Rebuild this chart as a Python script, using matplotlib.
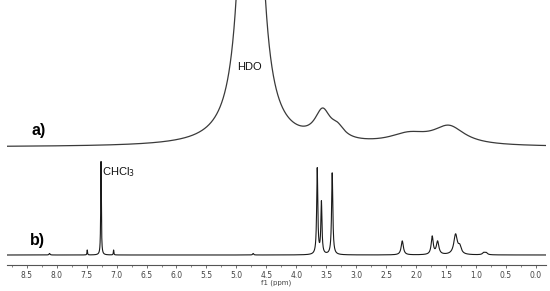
import numpy as np
import matplotlib
matplotlib.use("Agg")
import matplotlib.pyplot as plt
from matplotlib.ticker import MultipleLocator

# ---- data (ppm, height, half-width in ppm) ----
# Spectrum a (broad lines, large HDO signal)
a_pos = [4.76, 3.56, 3.31, 2.12, 1.45]
a_height = [760.0, 28.0, 10.0, 10.0, 18.0]
a_width = [0.12, 0.16, 0.14, 0.40, 0.32]
a_offset = 118.0

# Spectrum b (sharp lines)
b_pos = [8.12, 7.49, 7.26, 7.05, 4.72, 3.65, 3.58, 3.40, 2.23, 1.73, 1.64,
         1.34, 1.27, 0.87, 0.83]
b_height = [1.5, 5.0, 95.0, 5.0, 1.5, 86.0, 52.0, 82.0, 14.0, 18.0, 13.0,
            20.0, 7.0, 2.0, 2.0]
b_width = [0.01, 0.005, 0.006, 0.005, 0.01, 0.011, 0.011, 0.012, 0.022,
           0.02, 0.025, 0.035, 0.03, 0.025, 0.025]
b_offset = 10.0

xticks = [8.5, 8.0, 7.5, 7.0, 6.5, 6.0, 5.5, 5.0, 4.5, 4.0, 3.5, 3.0, 2.5,
          2.0, 1.5, 1.0, 0.5, 0.0]


def spectrum(x, pos, h, w):
    y = np.zeros_like(x)
    for p, a, g in zip(pos, h, w):
        y += a * g**2 / ((x - p) ** 2 + g**2)
    return y


x = np.linspace(8.83, -0.17, 6000)
ya = a_offset + spectrum(x, a_pos, a_height, a_width)
yb = b_offset + spectrum(x, b_pos, b_height, b_width)

fig = plt.figure(figsize=(5.5, 2.91), dpi=100)
ax = fig.add_axes([7 / 550, 26 / 291, 539 / 550, 265 / 291])
ax.plot(x, ya, color="#3a3a3a", lw=0.9)
ax.plot(x, yb, color="#1a1a1a", lw=0.8)
ax.set_xlim(8.83, -0.17)
ax.set_ylim(0, 265)

for s in ["top", "left", "right"]:
    ax.spines[s].set_visible(False)
ax.spines["bottom"].set_color("#555555")
ax.spines["bottom"].set_linewidth(0.8)
ax.set_yticks([])
ax.set_xticks(xticks)
ax.set_xticklabels([f"{t:.1f}" for t in xticks])
ax.xaxis.set_minor_locator(MultipleLocator(0.25))
ax.tick_params(axis="x", which="major", direction="out", length=2.5,
               width=0.6, color="#555555", labelsize=5.5, labelcolor="#444444",
               pad=1.5)
ax.tick_params(axis="x", which="minor", direction="out", length=1.5,
               width=0.5, color="#555555")
ax.set_xlabel("f1 (ppm)", fontsize=5, color="#444444", labelpad=0)

ax.text(4.99, 198, "HDO", fontsize=8, family="Liberation Sans", va="center",
        ha="left", color="#111111")
ax.text(8.42, 135, "a)", fontsize=11.5, fontweight="bold",
        family="Liberation Sans", va="center", ha="left")
ax.text(8.45, 25, "b)", fontsize=11.5, fontweight="bold",
        family="Liberation Sans", va="center", ha="left")
ax.text(7.24, 93, "CHCl$_3$", fontsize=8, family="Liberation Sans",
        va="center", ha="left", color="#111111")

fig.savefig("out.png", dpi=100)
